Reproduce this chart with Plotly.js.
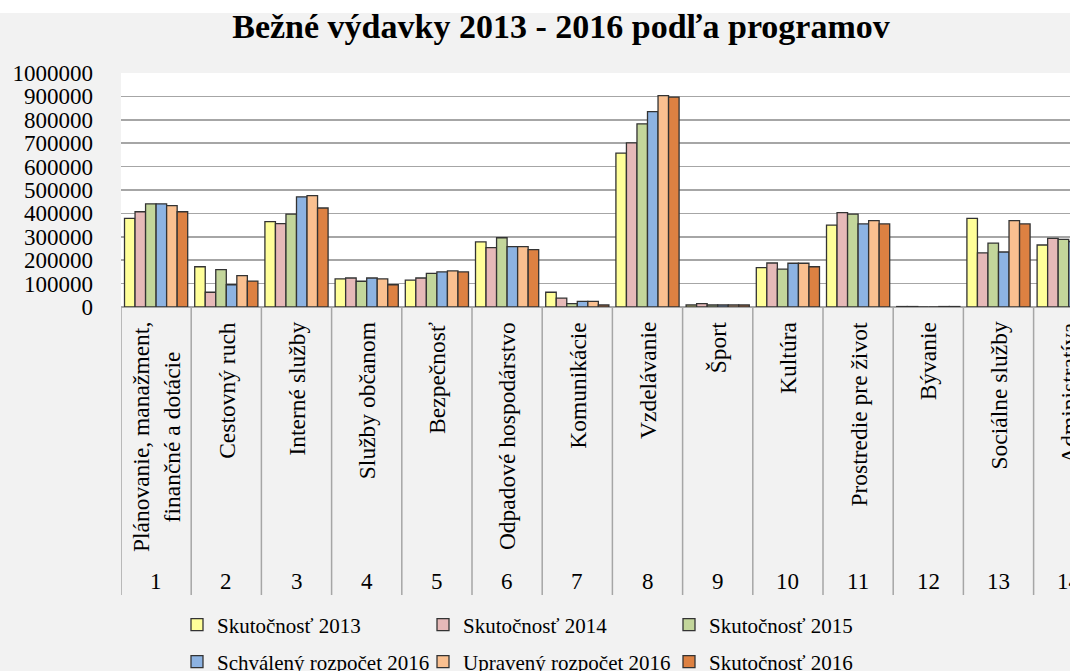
<!DOCTYPE html>
<html>
<head>
<meta charset="utf-8">
<script src="https://cdn.plot.ly/plotly-3.0.1.min.js"></script>
<style>
html,body{margin:0;padding:0;background:#f2f2f2;overflow:hidden;}
#chart{width:1070px;height:671px;}
</style>
</head>
<body>
<div id="chart"></div>
<script>
// ---- data ----
const categories = [
  'Plánovanie, manažment,<br>finančné a dotácie',
  'Cestovný ruch',
  'Interné služby',
  'Služby občanom',
  'Bezpečnosť',
  'Odpadové hospodárstvo',
  'Komunikácie',
  'Vzdelávanie',
  'Šport',
  'Kultúra',
  'Prostredie pre život',
  'Bývanie',
  'Sociálne služby',
  'Administratíva'
];
const codes = ['1','2','3','4','5','6','7','8','9','10','11','12','13','14'];
const seriesNames = ['Skutočnosť 2013','Skutočnosť 2014','Skutočnosť 2015',
                     'Schválený rozpočet 2016','Upravený rozpočet 2016','Skutočnosť 2016'];
const skut2013 = [379000,172000,365000,120000,115000,278000,63000,658000,8500,168000,350000,2000,379000,265000];
const skut2014 = [407000,63000,356000,124000,124000,254000,38000,701000,14000,188000,403000,2000,231000,293000];
const skut2015 = [441000,160000,397000,110000,144000,296000,14000,783000,8500,162000,397000,0,273000,289000];
const schval2016 = [441000,95000,471000,124000,150000,258000,24000,835000,8500,187000,355000,0,235000,280000];
const uprav2016 = [433000,134000,476000,120000,154000,258000,24000,903000,8500,187000,369000,2000,369000,300000];
const skut2016 = [407000,111000,423000,95000,150000,245000,8500,897000,8500,172000,355000,2000,355000,290000];
const yTicks = [0,100000,200000,300000,400000,500000,600000,700000,800000,900000,1000000];

const colors = ['#ffff99','#e6b9b8','#c3d69b','#8db3e2','#fac090','#dd8142'];
const allSeries = [skut2013,skut2014,skut2015,schval2016,uprav2016,skut2016];

const xIdx = categories.map((c,i)=>i);
const FONT = 'Liberation Serif, Times New Roman, serif';

const traces = allSeries.map((vals,k)=>({
  type:'bar',
  name: seriesNames[k],
  x: xIdx,
  y: vals,
  marker:{color:colors[k], line:{color:'#333333', width:1.3}},
  legend: k < 3 ? 'legend' : 'legend2',
  hoverinfo:'x+y+name'
}));

// geometry helpers (paper coords relative to plot area)
const plotTop = 73, plotBottom = 307, plotH = plotBottom - plotTop;
const plotLeft = 121, plotW = 1070 - plotLeft;
const py = p => (plotBottom - p) / plotH;
const px = p => (p - plotLeft) / plotW;

const shapes = [];
// white strip at very top of the image
shapes.push({type:'rect', xref:'paper', yref:'paper', x0:px(0), x1:1.01, y0:py(13), y1:py(0),
  fillcolor:'#ffffff', line:{width:0}, layer:'below'});
// category dividers
for (let k=0;k<=14;k++){
  shapes.push({type:'line', xref:'x', yref:'paper', x0:k-0.5, x1:k-0.5, y0:py(307), y1:py(595),
    line:{color:'#a6a6a6', width:1.5}});
}

const annotations = [];
categories.forEach((c,i)=>{
  annotations.push({xref:'x', yref:'paper', x:i, y:py(320), text:c, textangle:-90,
    showarrow:false, xanchor:'center', yanchor:'top', align:'center',
    font:{family:FONT, size:23.5, color:'#000'}});
  annotations.push({xref:'x', yref:'paper', x:i, y:py(581), text:codes[i],
    showarrow:false, xanchor:'center', yanchor:'middle',
    font:{family:FONT, size:23, color:'#000'}});
});

const legendBase = {
  orientation:'h', xref:'paper', yref:'paper', x:px(177), xanchor:'left', yanchor:'middle',
  entrywidth:201, entrywidthmode:'pixels', itemwidth:30, traceorder:'normal',
  bgcolor:'rgba(0,0,0,0)', borderwidth:0,
  font:{family:FONT, size:21, color:'#000'}
};

const layout = {
  width:1070, height:671,
  margin:{l:plotLeft, r:0, t:plotTop, b:671-plotBottom, pad:0, autoexpand:false},
  paper_bgcolor:'#f2f2f2', plot_bgcolor:'#ffffff',
  title:{text:'<b>Bežné výdavky 2013 - 2016 podľa programov</b>',
    font:{family:FONT, size:34, color:'#000'},
    xref:'container', yref:'container', x:561/1070, xanchor:'center', y:1-26/671, yanchor:'middle'},
  barmode:'group', bargap:0.1, bargroupgap:0,
  xaxis:{range:[-0.5, -0.5 + plotW/70.2], showticklabels:false, ticks:'', showgrid:false,
    zeroline:false, showline:false, fixedrange:true},
  yaxis:{range:[0,1000000], tickvals:yTicks, ticktext:yTicks.map(String), ticks:'',
    showgrid:true, gridcolor:'#a6a6a6', gridwidth:1.5, zeroline:true, zerolinecolor:'#a6a6a6',
    zerolinewidth:1.5, showline:false, ticklabelstandoff:27,
    tickfont:{family:FONT, size:23, color:'#000'}, fixedrange:true},
  legend:Object.assign({}, legendBase, {y:py(625)}),
  legend2:Object.assign({}, legendBase, {y:py(662)}),
  shapes:shapes,
  annotations:annotations,
  showlegend:true
};

Plotly.newPlot('chart', traces, layout, {displayModeBar:false, staticPlot:true});
</script>
</body>
</html>
